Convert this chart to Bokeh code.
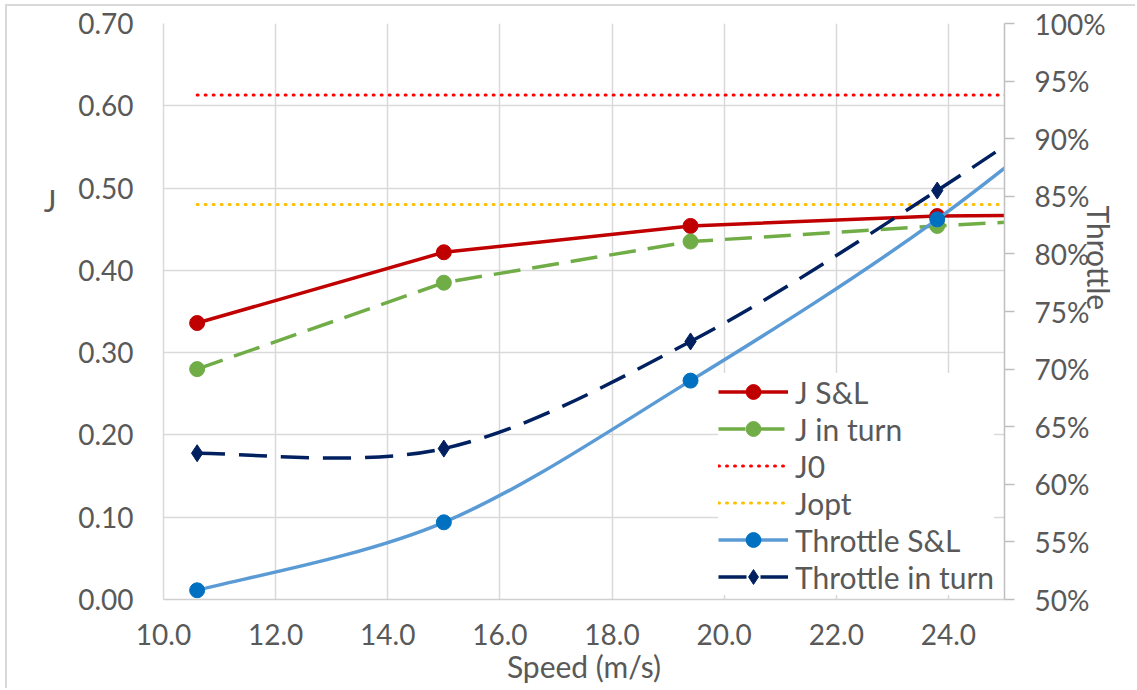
import math
from bokeh.plotting import figure
from bokeh.models import (Range1d, LinearAxis, NumeralTickFormatter, FixedTicker,
                          Legend, LegendItem, ColumnDataSource)
from bokeh.embed import file_html
from bokeh.resources import INLINE

# ---------------- data ----------------
speed = [10.6, 15.0, 19.4, 23.8, 28.2]
j_sl = [0.336, 0.422, 0.454, 0.466, 0.468]
j_turn = [0.280, 0.385, 0.435, 0.454, 0.470]
j0 = [0.613, 0.613, 0.613, 0.613, 0.613]
jopt = [0.480, 0.480, 0.480, 0.480, 0.480]
thr_sl = [0.508, 0.567, 0.690, 0.830, 1.000]
thr_turn = [0.627, 0.631, 0.724, 0.855, 1.000]

x_ticks = [10, 12, 14, 16, 18, 20, 22, 24]
j_ticks = [0.0, 0.1, 0.2, 0.3, 0.4, 0.5, 0.6, 0.7]
thr_ticks = [0.50, 0.55, 0.60, 0.65, 0.70, 0.75, 0.80, 0.85, 0.90, 0.95, 1.00]

# axis title anchor values (where the titles sit along each axis)
j_title_at = 0.485
thr_title_at = 0.842

FONT = "Lato"
TXT = "#595959"
GRID = "#d9d9d9"
FS_TICK = "28px"
FS_TXT = "30px"


def smooth_source(xs, ys):
    """Bezier control points (Excel-like smoothed line) for the data points."""
    n = len(xs)
    d = dict(x0=[], y0=[], x1=[], y1=[], cx0=[], cy0=[], cx1=[], cy1=[])
    for i in range(n - 1):
        xp, yp = (xs[i - 1], ys[i - 1]) if i > 0 else (xs[i], ys[i])
        xn, yn = (xs[i + 2], ys[i + 2]) if i + 2 < n else (xs[i + 1], ys[i + 1])
        d["x0"].append(xs[i]); d["y0"].append(ys[i])
        d["x1"].append(xs[i + 1]); d["y1"].append(ys[i + 1])
        d["cx0"].append(xs[i] + (xs[i + 1] - xp) / 6)
        d["cy0"].append(ys[i] + (ys[i + 1] - yp) / 6)
        d["cx1"].append(xs[i + 1] - (xn - xs[i]) / 6)
        d["cy1"].append(ys[i + 1] - (yn - ys[i]) / 6)
    return ColumnDataSource(d)


p = figure(width=1130, height=684, x_range=Range1d(10, 25), y_range=Range1d(0, 0.7),
           output_backend="svg", toolbar_location=None,
           min_border_left=156, min_border_right=132, min_border_top=17, min_border_bottom=91)
p.extra_y_ranges = {"thr": Range1d(0.5, 1.0)}
p.outline_line_color = None
p.background_fill_color = "white"
p.border_fill_color = "white"
p.styles = {"margin-left": "5px", "margin-top": "4px",
            "border-left": "2px solid #d9d9d9", "border-top": "2px solid #d9d9d9"}

# axes
xa = p.xaxis[0]
xa.ticker = FixedTicker(ticks=x_ticks)
xa.formatter = NumeralTickFormatter(format="0.0")
ya = p.yaxis[0]
ya.ticker = FixedTicker(ticks=j_ticks)
ya.formatter = NumeralTickFormatter(format="0.00")

ra = LinearAxis(y_range_name="thr", ticker=FixedTicker(ticks=thr_ticks),
                formatter=NumeralTickFormatter(format="0%"))
p.add_layout(ra, "right")

for ax in (xa, ya, ra):
    ax.major_label_text_font = FONT
    ax.major_label_text_font_size = FS_TICK
    ax.major_label_text_color = TXT
    ax.minor_tick_line_color = None
    ax.axis_line_width = 1.5

xa.axis_line_color = "#d0d0d0"
xa.major_tick_line_color = None
xa.major_tick_out = 0
xa.major_label_standoff = 24
ya.axis_line_color = GRID
ya.major_tick_line_color = None
ya.major_tick_out = 0
ya.major_label_standoff = 30
ra.axis_line_color = "#bfbfbf"
ra.major_tick_line_color = "#bfbfbf"
ra.major_tick_line_width = 1.5
ra.major_tick_in = 0
ra.major_tick_out = 10
ra.major_label_standoff = 20

xa.axis_label = "Speed (m/s)"
xa.axis_label_text_font = FONT
xa.axis_label_text_font_size = FS_TXT
xa.axis_label_text_font_style = "normal"
xa.axis_label_text_color = TXT
xa.axis_label_standoff = 0

# title axes: a single labelled position carries the axis title
ya2 = LinearAxis(ticker=FixedTicker(ticks=[j_title_at]),
                 major_label_overrides={j_title_at: "J"},
                 axis_line_color=None, major_tick_line_color=None, minor_tick_line_color=None,
                 major_tick_out=0, major_tick_in=0, major_label_standoff=19,
                 major_label_text_font=FONT, major_label_text_font_size=FS_TXT,
                 major_label_text_color=TXT)
p.add_layout(ya2, "left")

ra2 = LinearAxis(y_range_name="thr", ticker=FixedTicker(ticks=[thr_title_at]),
                 major_label_overrides={thr_title_at: "Throttle"},
                 major_label_orientation=-math.pi / 2,
                 axis_line_color=None, major_tick_line_color=None, minor_tick_line_color=None,
                 major_tick_out=0, major_tick_in=0, major_label_standoff=-10,
                 major_label_text_font=FONT, major_label_text_font_size=FS_TXT,
                 major_label_text_color=TXT)
p.add_layout(ra2, "right")

p.xgrid.ticker = FixedTicker(ticks=x_ticks)
p.ygrid.ticker = FixedTicker(ticks=j_ticks)
for g in (p.xgrid[0], p.ygrid[0]):
    g.grid_line_color = GRID
    g.grid_line_width = 1.5

# ---------------- series ----------------
RED = "#C00000"
GREEN = "#70AD47"
BLUE_L = "#5B9BD5"
BLUE_M = "#0070C0"
NAVY = "#002060"

# J S&L
l1 = p.line(speed, j_sl, line_color=RED, line_width=3.5)
s1 = p.scatter(speed, j_sl, marker="circle", size=15, fill_color=RED, line_color=RED)

# J in turn
l2 = p.line(speed, j_turn, line_color=GREEN, line_width=3.5, line_dash="27 12")
s2 = p.scatter(speed, j_turn, marker="circle", size=15, fill_color=GREEN, line_color=GREEN)

# J0, Jopt
l3 = p.line(speed, j0, line_color="#FF0000", line_width=3, line_dash="1 7", line_cap="round")
l4 = p.line(speed, jopt, line_color="#FFC000", line_width=3, line_dash="1 7", line_cap="round")

# Throttle S&L (smoothed)
l5 = p.bezier(source=smooth_source(speed, thr_sl), x0="x0", y0="y0", x1="x1", y1="y1",
              cx0="cx0", cy0="cy0", cx1="cx1", cy1="cy1", line_color=BLUE_L, line_width=3.5,
              y_range_name="thr")
s5 = p.scatter(speed, thr_sl, marker="circle", size=15, fill_color=BLUE_M, line_color=BLUE_M,
               y_range_name="thr")

# Throttle in turn (smoothed)
l6 = p.bezier(source=smooth_source(speed, thr_turn), x0="x0", y0="y0", x1="x1", y1="y1",
              cx0="cx0", cy0="cy0", cx1="cx1", cy1="cy1", line_color=NAVY, line_width=3.5,
              line_dash="28 14", y_range_name="thr")
s6 = p.scatter(speed, thr_turn, marker="diamond", size=17, fill_color=NAVY, line_color=NAVY,
               y_range_name="thr")

legend = Legend(items=[
    LegendItem(label="J S&L", renderers=[l1, s1]),
    LegendItem(label="J in turn", renderers=[l2, s2]),
    LegendItem(label="J0", renderers=[l3]),
    LegendItem(label="Jopt", renderers=[l4]),
    LegendItem(label="Throttle S&L", renderers=[l5, s5]),
    LegendItem(label="Throttle in turn", renderers=[l6, s6]),
], location=(555, 4))
legend.label_text_font = FONT
legend.label_text_font_size = FS_TXT
legend.label_text_color = TXT
legend.glyph_width = 70
legend.glyph_height = 37
legend.label_height = 37
legend.spacing = 0
legend.padding = 5
legend.margin = 0
legend.label_standoff = 7
legend.border_line_color = None
legend.background_fill_color = "white"
legend.background_fill_alpha = 1.0
p.add_layout(legend, "center")

open("out.html", "w").write(file_html(p, INLINE))
